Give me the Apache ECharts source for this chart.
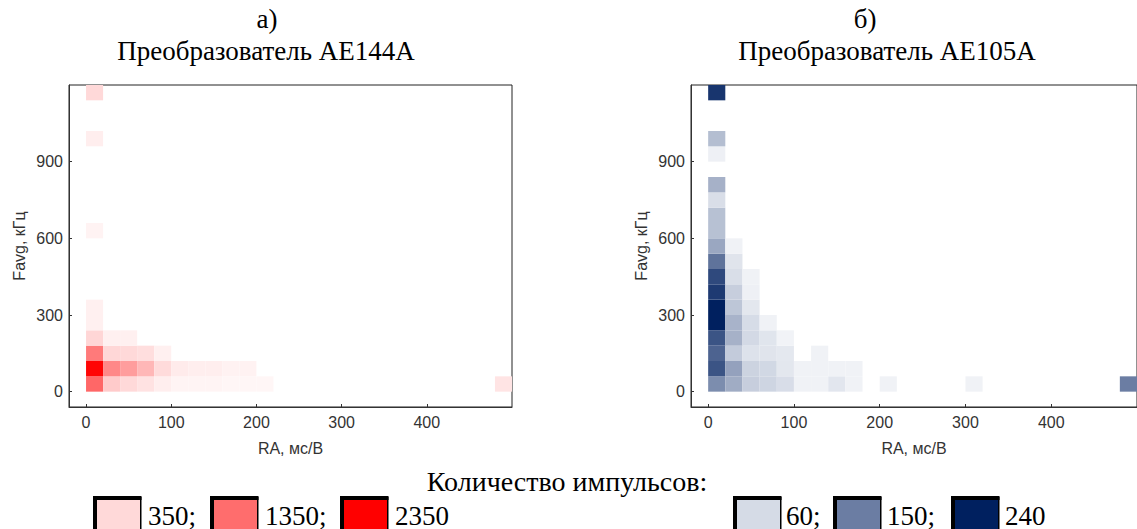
<!DOCTYPE html>
<html>
<head>
<meta charset="utf-8">
<script src="https://cdn.jsdelivr.net/npm/echarts@6/dist/echarts.min.js"></script>
<style>
html,body{margin:0;padding:0;background:#fff;}
#chart{width:1137px;height:529px;}
</style>
</head>
<body>
<div id="chart"></div>
<script>
// ---- data ----
const binRA = 20;      // bin width along RA, мс/В
const binF = 60;       // bin width along Favg, кГц
const xTicks = [0, 100, 200, 300, 400];
const yTicks = [0, 300, 600, 900];

// [RA bin start, Favg bin start, count] — AE144A
const cellsAE144A = [
  [0,0,1400],[0,60,2300],[0,120,1230],[0,180,380],[0,240,140],[0,300,140],[0,600,110],[0,960,160],[0,1140,350],
  [20,0,480],[20,60,1100],[20,120,370],[20,180,140],
  [40,0,350],[40,60,900],[40,120,350],[40,180,140],
  [60,0,270],[60,60,660],[60,120,300],
  [80,0,160],[80,60,330],[80,120,140],
  [100,0,100],[100,60,180],
  [120,0,100],[120,60,160],
  [140,0,100],[140,60,160],
  [160,0,80],[160,60,120],
  [180,0,80],[180,60,120],
  [200,0,80],
  [480,0,250]
];

// [RA bin start, Favg bin start, count] — AE105A
const cellsAE105A = [
  [0,0,135],[0,60,190],[0,120,175],[0,180,190],[0,240,240],[0,300,240],[0,360,215],[0,420,200],[0,480,160],
  [0,540,110],[0,600,85],[0,660,85],[0,720,55],[0,780,100],[0,900,25],[0,960,88],[0,1140,220],
  [20,0,105],[20,60,115],[20,120,75],[20,180,100],[20,240,98],[20,300,80],[20,360,72],[20,420,55],[20,480,45],[20,540,22],
  [40,0,72],[40,60,68],[40,120,48],[40,180,62],[40,240,58],[40,300,40],[40,360,25],[40,420,22],
  [60,0,66],[60,60,63],[60,120,45],[60,180,44],[60,240,22],
  [80,0,56],[80,60,40],[80,120,38],[80,180,20],
  [100,0,22],[100,60,22],
  [120,0,22],[120,60,22],[120,120,22],
  [140,0,42],[140,60,22],
  [160,0,22],[160,60,22],
  [200,0,22],
  [300,0,22],
  [480,0,150]
];

const legendAE144A = [350, 1350, 2350];
const legendAE105A = [60, 150, 240];

const titleA = ['а)', 'Преобразователь AE144A'];
const titleB = ['б)', 'Преобразователь AE105A'];
const legendTitle = 'Количество импульсов:';
const xName = 'RA, мс/В';
const yName = 'Favg, кГц';

// ---- styles ----
const redStops = ['#ffffff', '#ff0000'];
const blueStops = ['#ffffff', '#d5dbe6', '#8e9cb9', '#475e8c', '#00205f'];
const redMax = 2350, blueMax = 240;
const SANS = 'Liberation Sans';
const SERIF = 'Liberation Serif';

function renderCell(params, api) {
  const x0 = api.value(0), y0 = api.value(1);
  const p0 = api.coord([x0, y0]);
  const p1 = api.coord([x0 + binRA, y0 + binF]);
  return {
    type: 'rect',
    shape: { x: p0[0], y: p1[1], width: p1[0] - p0[0], height: p0[1] - p1[1] },
    style: { fill: api.visual('color') }
  };
}

function xAxisOpt(gridIndex) {
  return {
    type: 'value', gridIndex, min: -20, max: 500,
    name: xName, nameLocation: 'middle', nameGap: 33,
    nameTextStyle: { fontFamily: SANS, fontSize: 16, color: '#333' },
    axisLine: { show: true, onZero: false, lineStyle: { color: '#333', width: 1 } },
    axisTick: { show: true, inside: true, length: 3, customValues: xTicks, lineStyle: { color: '#333' } },
    axisLabel: { customValues: xTicks, fontFamily: SANS, fontSize: 16, color: '#333', margin: 7 },
    splitLine: { show: false }
  };
}
function yAxisOpt(gridIndex) {
  return {
    type: 'value', gridIndex, min: -60, max: 1200,
    name: yName, nameLocation: 'middle', nameGap: 42, nameRotate: 90,
    nameTextStyle: { fontFamily: SANS, fontSize: 16, color: '#333' },
    axisLine: { show: true, onZero: false, lineStyle: { color: '#333', width: 1 } },
    axisTick: { show: true, inside: true, length: 3, customValues: yTicks, lineStyle: { color: '#333' } },
    axisLabel: { customValues: yTicks, fontFamily: SANS, fontSize: 16, color: '#333', margin: 6 },
    splitLine: { show: false }
  };
}

function legendGroup(values, stops, max, boxXs, textXs) {
  const els = [];
  values.forEach((v, i) => {
    const col = echarts.color.lerp(v / max, stops);
    els.push({
      type: 'rect', left: boxXs[i], top: 496,
      shape: { x: 0, y: 0, width: 47, height: 40 },
      style: { fill: col, stroke: '#000', lineWidth: 1.5 }
    });
    els.push({
      type: 'polyline', left: boxXs[i], top: 496,
      shape: { points: [[1, 40], [1, 1], [47, 1]] },
      style: { fill: null, stroke: '#000', lineWidth: 3 }
    });
    els.push({
      type: 'text', left: textXs[i], top: 502,
      style: { text: v + (i < values.length - 1 ? ';' : ''), font: '27px "' + SERIF + '"', fill: '#000' }
    });
  });
  return els;
}

const chart = echarts.init(document.getElementById('chart'), null, { renderer: 'svg' });
chart.setOption({
  animation: false,
  backgroundColor: '#fff',
  grid: [
    { left: 69, top: 85, width: 443, height: 322, show: true, borderColor: '#222', borderWidth: 1, backgroundColor: '#fff' },
    { left: 691, top: 85, width: 456, height: 322, show: true, borderColor: '#222', borderWidth: 1, backgroundColor: '#fff' }
  ],
  xAxis: [xAxisOpt(0), xAxisOpt(1)],
  yAxis: [yAxisOpt(0), yAxisOpt(1)],
  visualMap: [
    { type: 'continuous', show: false, seriesIndex: 0, dimension: 2, min: 0, max: redMax, inRange: { color: redStops } },
    { type: 'continuous', show: false, seriesIndex: 1, dimension: 2, min: 0, max: blueMax, inRange: { color: blueStops } }
  ],
  series: [
    { type: 'custom', xAxisIndex: 0, yAxisIndex: 0, renderItem: renderCell, encode: { x: 0, y: 1 }, data: cellsAE144A, clip: true },
    { type: 'custom', xAxisIndex: 1, yAxisIndex: 1, renderItem: renderCell, encode: { x: 0, y: 1 }, data: cellsAE105A, clip: true }
  ],
  graphic: [
    { type: 'text', x: 267, y: 19, style: { text: titleA[0], font: '27px "' + SERIF + '"', fill: '#000', align: 'center', verticalAlign: 'middle' } },
    { type: 'text', x: 266, y: 51, style: { text: titleA[1], font: '27px "' + SERIF + '"', fill: '#000', align: 'center', verticalAlign: 'middle' } },
    { type: 'text', x: 865, y: 19, style: { text: titleB[0], font: '27px "' + SERIF + '"', fill: '#000', align: 'center', verticalAlign: 'middle' } },
    { type: 'text', x: 887, y: 51, style: { text: titleB[1], font: '27px "' + SERIF + '"', fill: '#000', align: 'center', verticalAlign: 'middle' } },
    { type: 'text', x: 567, y: 481, style: { text: legendTitle, font: '28px "' + SERIF + '"', fill: '#000', align: 'center', verticalAlign: 'middle' } }
  ].concat(
    legendGroup(legendAE144A, redStops, redMax, [93, 210, 340], [148, 265, 395]),
    legendGroup(legendAE105A, blueStops, blueMax, [733, 833, 951], [786, 887, 1005])
  )
});
</script>
</body>
</html>
